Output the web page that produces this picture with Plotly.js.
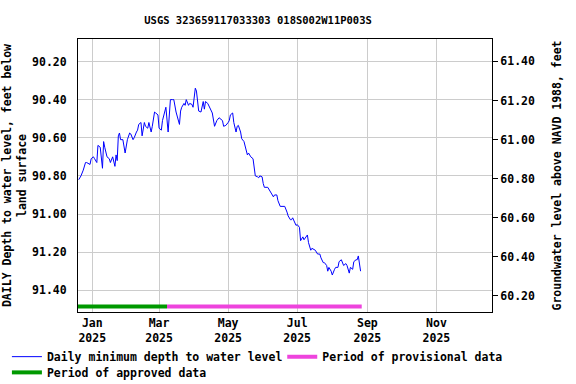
<!DOCTYPE html>
<html>
<head>
<meta charset="utf-8">
<script src="https://cdn.plot.ly/plotly-3.0.1.min.js"></script>
<style>
    html, body { margin: 0; padding: 0; background: white; }
    #chart { width: 576px; height: 384px; }
</style>
</head>
<body>
<div id="chart"></div>
<script>
// daily minimum depth to water level, feet below land surface
const dates = [
    '2024-12-20', '2024-12-22', '2024-12-24', '2024-12-26', '2024-12-27', '2024-12-30', '2024-12-31',
    '2025-01-02', '2025-01-03', '2025-01-05', '2025-01-06', '2025-01-08', '2025-01-10', '2025-01-11',
    '2025-01-12', '2025-01-14', '2025-01-16', '2025-01-17', '2025-01-19', '2025-01-21', '2025-01-22',
    '2025-01-23', '2025-01-24', '2025-01-25', '2025-01-26', '2025-01-28', '2025-01-30', '2025-02-01',
    '2025-02-03', '2025-02-04', '2025-02-06', '2025-02-07', '2025-02-09', '2025-02-10', '2025-02-11',
    '2025-02-13', '2025-02-14', '2025-02-16', '2025-02-17', '2025-02-19', '2025-02-20', '2025-02-22',
    '2025-02-23', '2025-02-25', '2025-02-26', '2025-02-28', '2025-03-01', '2025-03-03', '2025-03-04',
    '2025-03-06', '2025-03-07', '2025-03-09', '2025-03-10', '2025-03-11', '2025-03-13', '2025-03-14',
    '2025-03-16', '2025-03-17', '2025-03-19', '2025-03-20', '2025-03-21', '2025-03-23', '2025-03-24',
    '2025-03-25', '2025-03-27', '2025-03-28', '2025-03-30', '2025-03-31', '2025-04-01', '2025-04-02',
    '2025-04-03', '2025-04-04', '2025-04-05', '2025-04-07', '2025-04-08', '2025-04-09', '2025-04-10',
    '2025-04-11', '2025-04-13', '2025-04-16', '2025-04-17', '2025-04-19', '2025-04-21', '2025-04-23',
    '2025-04-24', '2025-04-26', '2025-04-27', '2025-04-29', '2025-05-01', '2025-05-02', '2025-05-03',
    '2025-05-05', '2025-05-06', '2025-05-08', '2025-05-09', '2025-05-10', '2025-05-12', '2025-05-13',
    '2025-05-15', '2025-05-16', '2025-05-18', '2025-05-19', '2025-05-21', '2025-05-23', '2025-05-24',
    '2025-05-25', '2025-05-27', '2025-05-28', '2025-05-29', '2025-05-31', '2025-06-01', '2025-06-02',
    '2025-06-05', '2025-06-07', '2025-06-08', '2025-06-10', '2025-06-11', '2025-06-13', '2025-06-14',
    '2025-06-16', '2025-06-19', '2025-06-20', '2025-06-22', '2025-06-23', '2025-06-25', '2025-06-26',
    '2025-06-27', '2025-06-29', '2025-06-30', '2025-07-01', '2025-07-03', '2025-07-04', '2025-07-06',
    '2025-07-07', '2025-07-09', '2025-07-10', '2025-07-11', '2025-07-13', '2025-07-14', '2025-07-16',
    '2025-07-17', '2025-07-19', '2025-07-21', '2025-07-22', '2025-07-24', '2025-07-25', '2025-07-27',
    '2025-07-28', '2025-07-29', '2025-07-31', '2025-08-01', '2025-08-03', '2025-08-04', '2025-08-06',
    '2025-08-07', '2025-08-09', '2025-08-10', '2025-08-11', '2025-08-13', '2025-08-14', '2025-08-16',
    '2025-08-17', '2025-08-19', '2025-08-20', '2025-08-22', '2025-08-23', '2025-08-24', '2025-08-25',
    '2025-08-26',
];

const depths = [
    90.82, 90.80, 90.77, 90.73, 90.73, 90.74, 90.71,
    90.70, 90.71, 90.73, 90.64, 90.65, 90.76, 90.62,
    90.65, 90.70, 90.71, 90.73, 90.70, 90.75, 90.69,
    90.72, 90.59, 90.575, 90.61, 90.61, 90.68, 90.61,
    90.575, 90.58, 90.61, 90.60, 90.57, 90.56, 90.53,
    90.52, 90.59, 90.52, 90.54, 90.55, 90.52, 90.57,
    90.54, 90.465, 90.47, 90.48, 90.55, 90.56, 90.51,
    90.465, 90.44, 90.57, 90.48, 90.40, 90.40, 90.40,
    90.465, 90.49, 90.53, 90.46, 90.44, 90.42, 90.43,
    90.40, 90.43, 90.42, 90.425, 90.44, 90.40, 90.34,
    90.355, 90.42, 90.46, 90.465, 90.43, 90.41, 90.45,
    90.41, 90.42, 90.465, 90.47, 90.54, 90.51, 90.495,
    90.50, 90.51, 90.54, 90.535, 90.52, 90.51, 90.48,
    90.47, 90.52, 90.57, 90.54, 90.535, 90.57, 90.605,
    90.62, 90.65, 90.69, 90.68, 90.70, 90.71, 90.77,
    90.80, 90.805, 90.81, 90.80, 90.805, 90.84, 90.86,
    90.86, 90.885, 90.89, 90.91, 90.90, 90.90, 90.93,
    90.96, 90.96, 90.96, 90.99, 91.01, 91.03, 91.03,
    91.02, 91.05, 91.06, 91.055, 91.07, 91.14, 91.12,
    91.135, 91.12, 91.11, 91.15, 91.19, 91.18, 91.19,
    91.19, 91.21, 91.21, 91.23, 91.255, 91.255, 91.27,
    91.30, 91.28, 91.30, 91.32, 91.29, 91.28, 91.28,
    91.25, 91.24, 91.26, 91.27, 91.26, 91.27, 91.31,
    91.28, 91.29, 91.25, 91.24, 91.24, 91.22, 91.26,
    91.30,
];

// approval periods, drawn as a bar near the bottom of the plot
const approvedPeriod = ['2024-12-18', '2025-03-08'];
const provisionalPeriod = ['2025-03-08', '2025-08-27'];
const periodDepth = 91.485;

const depthTicks = [90.2, 90.4, 90.6, 90.8, 91.0, 91.2, 91.4];
const elevationTicks = [60.2, 60.4, 60.6, 60.8, 61.0, 61.2, 61.4];

const FONT = {
    family: '"DejaVu Sans Mono", monospace',
    size: 11.5,
    color: '#000000',
    weight: 'bold',
};

const data = [
    {
        x: dates,
        y: depths,
        type: 'scatter',
        mode: 'lines',
        name: 'Daily minimum depth to water level',
        line: { color: '#0000ff', width: 1 },
        legend: 'legend',
    },
    {
        x: provisionalPeriod,
        y: [periodDepth, periodDepth],
        type: 'scatter',
        mode: 'lines',
        name: 'Period of provisional data',
        line: { color: '#ee44dd', width: 4 },
        legend: 'legend3',
    },
    {
        x: approvedPeriod,
        y: [periodDepth, periodDepth],
        type: 'scatter',
        mode: 'lines',
        name: 'Period of approved data',
        line: { color: '#009900', width: 4 },
        legend: 'legend2',
    },
    {
        // invisible trace so the right axis is drawn
        x: [dates[0]],
        y: [61.0],
        yaxis: 'y2',
        type: 'scatter',
        mode: 'markers',
        marker: { opacity: 0 },
        showlegend: false,
    },
];

const legendBase = {
    orientation: 'h',
    xref: 'container',
    yref: 'container',
    x: 0.012,
    xanchor: 'left',
    yanchor: 'top',
    font: FONT,
    itemwidth: 30,
    bgcolor: 'rgba(0,0,0,0)',
};

const layout = {
    width: 576,
    height: 384,
    margin: { l: 78, r: 84, t: 39, b: 72, autoexpand: false },
    paper_bgcolor: 'white',
    plot_bgcolor: 'white',
    font: FONT,
    showlegend: true,
    title: {
        text: 'USGS 323659117033303 018S002W11P003S',
        font: { ...FONT, size: 10.5 },
        x: 0.448,
        xref: 'container',
        xanchor: 'center',
        y: 0.948,
        yref: 'container',
        yanchor: 'middle',
    },
    xaxis: {
        type: 'date',
        range: ['2024-12-19 09:00', '2025-12-20 02:00'],
        tick0: '2025-01-01',
        dtick: 'M2',
        tickformat: '%b<br>%Y',
        ticks: '',
        showgrid: true,
        gridcolor: '#cccccc',
        gridwidth: 1,
        showline: true,
        linecolor: '#000000',
        linewidth: 1,
        mirror: true,
        zeroline: false,
        tickfont: FONT,
    },
    yaxis: {
        title: {
            text: 'DAILY Depth to water level, feet below<br>land surface',
            font: FONT,
            standoff: 4,
        },
        range: [91.514, 90.082],
        tickvals: depthTicks,
        ticktext: depthTicks.map((v) => v.toFixed(2)),
        ticks: 'outside',
        ticklen: 8,
        tickcolor: 'rgba(0,0,0,0)',
        showgrid: true,
        gridcolor: '#cccccc',
        gridwidth: 1,
        showline: true,
        linecolor: '#000000',
        linewidth: 1,
        mirror: true,
        zeroline: false,
        tickfont: FONT,
    },
    yaxis2: {
        title: {
            text: 'Groundwater level above NAVD 1988, feet',
            font: FONT,
            standoff: 18,
        },
        overlaying: 'y',
        side: 'right',
        range: [60.116, 61.515],
        tickvals: elevationTicks,
        ticktext: elevationTicks.map((v) => v.toFixed(2)),
        ticks: 'outside',
        ticklen: 5,
        tickcolor: '#000000',
        showgrid: false,
        zeroline: false,
        showline: false,
        tickfont: FONT,
    },
    legend: { ...legendBase, y: 0.109 },
    legend3: { ...legendBase, x: 0.49, y: 0.109 },
    legend2: { ...legendBase, y: 0.068 },
};

Plotly.newPlot('chart', data, layout, { displayModeBar: false, staticPlot: true });
</script>
</body>
</html>
